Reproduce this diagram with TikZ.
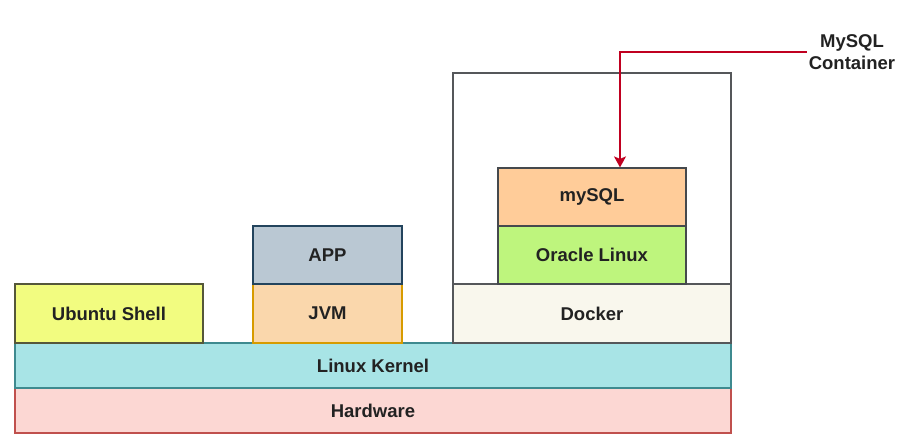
\documentclass[tikz,border=0pt]{standalone}
\usepackage{fontspec}
\setmainfont{Liberation Sans}
\usetikzlibrary{arrows.meta}
\definecolor{txt}{HTML}{222222}
\definecolor{hwF}{HTML}{FCD7D3}\definecolor{hwD}{HTML}{C0504D}
\definecolor{lkF}{HTML}{A8E4E6}\definecolor{lkD}{HTML}{3E8A8F}
\definecolor{ubF}{HTML}{F2FC80}\definecolor{ubD}{HTML}{55573A}
\definecolor{jvF}{HTML}{FAD7AC}\definecolor{jvD}{HTML}{D79B00}
\definecolor{apF}{HTML}{BAC8D3}\definecolor{apD}{HTML}{23445D}
\definecolor{dkF}{HTML}{F9F7ED}\definecolor{dkD}{HTML}{55575A}
\definecolor{orF}{HTML}{BEF57D}\definecolor{orD}{HTML}{45494D}
\definecolor{myF}{HTML}{FFCC99}\definecolor{myD}{HTML}{45494D}
\definecolor{arr}{HTML}{C00020}
\tikzset{
  layer/.style={rectangle, inner sep=0pt, line width=1.2pt, text=txt,
    font=\fontsize{18.5}{21}\selectfont\bfseries},
  lbl/.style={inner sep=2pt, text=txt, align=center,
    font=\fontsize{18.5}{22}\selectfont\bfseries},
  arrowline/.style={draw=arr, line width=1.4pt, -{Stealth[width=12pt,length=11pt,inset=2.5pt]}}
}
\begin{document}
\begin{tikzpicture}[x=1pt,y=-1pt]
\useasboundingbox (0,0) rectangle (900,441);
% container frame
\node[layer, draw=dkD, minimum width=278pt, minimum height=211pt] (container) at (592,178.5) {};
% base layers
\node[layer, fill=hwF, draw=hwD, minimum width=716pt, minimum height=45pt] (hw) at (373,410.5) {Hardware};
\node[layer, fill=lkF, draw=lkD, minimum width=716pt, minimum height=45pt] (lk) at (373,365.5) {Linux Kernel};
\node[layer, fill=ubF, draw=ubD, minimum width=188pt, minimum height=59pt] (ub) at (109,313.5) {Ubuntu Shell};
\node[layer, fill=jvF, draw=jvD, minimum width=149pt, minimum height=59pt] (jvm) at (327.5,313.5) {JVM};
\node[layer, fill=apF, draw=apD, minimum width=149pt, minimum height=58pt] (app) at (327.5,255) {APP};
\node[layer, fill=dkF, draw=dkD, minimum width=278pt, minimum height=59pt] (docker) at (592,313.5) {Docker};
\node[layer, fill=orF, draw=orD, minimum width=188pt, minimum height=58pt] (oracle) at (592,255) {Oracle Linux};
\node[layer, fill=myF, draw=myD, minimum width=188pt, minimum height=58pt] (mysql) at (592,197) {mySQL};
% label and arrow
\node[lbl] (label) at (852,52) {MySQL\\Container};
\draw[arrowline] (label.west) -| ([xshift=28pt]mysql.north);
\end{tikzpicture}
\end{document}
